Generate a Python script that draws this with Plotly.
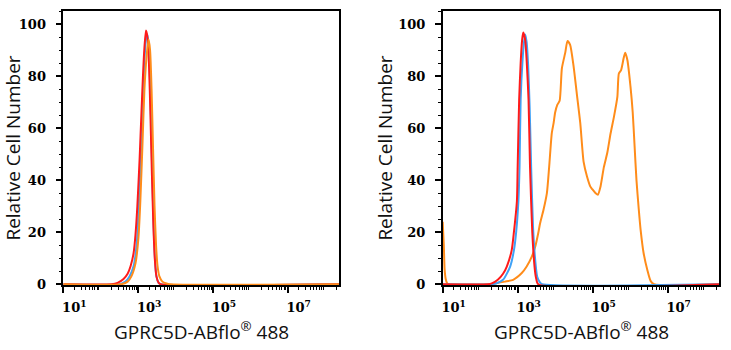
import plotly.graph_objects as go

# ---------------- data (x as log10 of fluorescence intensity, y = relative cell number) ----------------
# Left panel
left_red_logx = [1.00, 2.29, 2.45, 2.61, 2.72, 2.80, 2.88, 2.93, 2.98, 3.04, 3.09, 3.13, 3.17, 3.21, 3.25, 3.29, 3.33, 3.37, 3.41, 3.45, 3.49, 3.55, 3.60, 8.37]
left_red_y = [0, 0, 0.5, 2, 4, 7, 12, 19, 30, 48, 66, 80, 91, 97.5, 95, 85, 65, 42, 22, 9, 3, 0.5, 0, 0]

left_blue_logx = [1.00, 2.50, 2.66, 2.77, 2.88, 2.96, 3.01, 3.06, 3.12, 3.17, 3.21, 3.25, 3.29, 3.33, 3.37, 3.41, 3.45, 3.49, 3.55, 3.60, 8.37]
left_blue_y = [0, 0, 1, 3, 7, 15, 27, 45, 68, 86, 94, 96, 90, 72, 48, 25, 10, 3, 0.5, 0, 0]

left_orange_logx = [1.00, 2.55, 2.72, 2.82, 2.93, 3.01, 3.06, 3.12, 3.17, 3.23, 3.28, 3.32, 3.36, 3.40, 3.44, 3.48, 3.52, 3.57, 3.65, 3.76, 3.84, 8.37]
left_orange_y = [0, 0, 1, 3, 8, 18, 32, 55, 75, 88, 94, 90, 75, 52, 30, 15, 7, 3, 1, 0.3, 0, 0]

# Right panel
right_red_logx = [1.00, 2.21, 2.31, 2.47, 2.61, 2.71, 2.84, 2.90, 2.98, 3.00, 3.04, 3.08, 3.12, 3.15, 3.20, 3.24, 3.29, 3.33, 3.39, 3.45, 3.49, 3.55, 8.40]
right_red_y = [0, 0, 0.3, 1.7, 4, 6.8, 13, 20, 32, 45, 71, 85, 94, 96.7, 94, 86, 71, 45, 20, 6.8, 2.5, 0, 0]

right_blue_logx = [1.00, 2.31, 2.42, 2.61, 2.80, 2.90, 2.96, 3.02, 3.05, 3.08, 3.13, 3.17, 3.20, 3.24, 3.28, 3.32, 3.36, 3.41, 3.47, 3.52, 3.59, 3.65, 8.40]
right_blue_y = [0, 0, 0.3, 1.7, 6.8, 13, 20, 32, 45, 71, 86, 93, 96, 93, 84, 68, 45, 22, 9, 3, 0.8, 0, 0]

right_orange_logx = [1.00, 1.03, 1.05, 1.08, 1.12, 1.16, 2.26, 2.39, 2.66, 2.88, 3.11, 3.24, 3.38, 3.47, 3.55,
                     3.60, 3.69, 3.78, 3.84, 3.91, 3.96, 4.00, 4.06, 4.12, 4.18, 4.27, 4.33, 4.40, 4.49, 4.58,
                     4.67, 4.76, 4.85, 4.94, 4.99, 5.08, 5.14, 5.21, 5.30, 5.39, 5.48, 5.57, 5.66, 5.70, 5.76,
                     5.83, 5.87, 5.93, 6.01, 6.07, 6.12, 6.17, 6.23, 6.28, 6.36, 6.46, 6.55, 6.64, 8.40]
right_orange_y = [24, 15, 6, 2, 0.3, 0, 0, 0.3, 1, 1.7, 4.3, 6.8, 10.7, 14.5, 19.7,
                  23.5, 28.6, 35, 45, 58, 62, 66, 69, 70.5, 83, 89, 93.5, 92, 84, 73,
                  62, 47, 41.4, 37.5, 36.5, 35, 34.4, 37.5, 45, 50.4, 58, 64.4, 72, 81, 82.3,
                  87, 89, 86, 76, 66, 53, 40, 29, 21, 12, 5.5, 1.2, 0, 0]

labeled_exponents = [1, 3, 5, 7]
x_tick_labels = ["10<sup>1</sup>", "10<sup>3</sup>", "10<sup>5</sup>", "10<sup>7</sup>"]
unlabeled_exponents = [2, 4, 6, 8]
y_tick_values = [0, 20, 40, 60, 80, 100]
x_title = "GPRC5D-ABflo<sup>®</sup> 488"
y_title = "Relative Cell Number"

RED = "#FF1A1A"
BLUE = "#3FA2F7"
ORANGE = "#FF8C1A"

def tr(logx, y, color, xa, ya):
    return go.Scatter(x=[10 ** v for v in logx], y=y, mode="lines",
                      line=dict(color=color, width=2, shape="spline", smoothing=0.6),
                      xaxis=xa, yaxis=ya, showlegend=False, hoverinfo="skip")

fig = go.Figure()
fig.add_trace(tr(left_blue_logx, left_blue_y, BLUE, "x", "y"))
fig.add_trace(tr(left_red_logx, left_red_y, RED, "x", "y"))
fig.add_trace(tr(left_orange_logx, left_orange_y, ORANGE, "x", "y"))
fig.add_trace(tr(right_orange_logx, right_orange_y, ORANGE, "x2", "y2"))
fig.add_trace(tr(right_blue_logx, right_blue_y, BLUE, "x2", "y2"))
fig.add_trace(tr(right_red_logx, right_red_y, RED, "x2", "y2"))

W, H = 731, 350
XRANGE = [1.0, 8.38]
title_font = dict(family="Open Sans", size=19, color="#111111")
minor_x_vals = [m * 10 ** e for e in range(1, 9) for m in range(2, 10)]

def xaxis(domain, anchor):
    return dict(domain=domain, anchor=anchor, type="log", range=XRANGE,
                tickvals=[10 ** e for e in labeled_exponents], ticktext=x_tick_labels,
                ticks="outside", ticklen=6, tickwidth=1.5, tickcolor="black",
                minor=dict(tickvals=minor_x_vals, ticks="outside", ticklen=3, tickwidth=1, tickcolor="black"),
                ticklabelshift=11, ticklabelstandoff=4,
                tickfont=dict(family="DejaVu Serif", size=13, color="black", weight="bold"),
                showline=True, linecolor="black", linewidth=1.5, mirror=True,
                showgrid=False, zeroline=False, automargin=False)

def xaxis_extra(domain, anchor, overlay):
    # unlabeled major (even-decade) ticks
    return dict(domain=domain, anchor=anchor, overlaying=overlay, type="log", range=XRANGE,
                tickvals=[10 ** e for e in unlabeled_exponents], showticklabels=False,
                ticks="outside", ticklen=6, tickwidth=1.5, tickcolor="black",
                showline=False, showgrid=False, zeroline=False, automargin=False)

def yaxis(anchor):
    return dict(domain=[65 / H, 339 / H], range=[-0.3, 105], anchor=anchor,
                tickvals=y_tick_values, ticks="outside", ticklen=6, tickwidth=1.5, tickcolor="black",
                minor=dict(dtick=5, ticks="outside", ticklen=3, tickwidth=1, tickcolor="black"),
                ticklabelstandoff=7,
                tickfont=dict(family="DejaVu Serif", size=13, color="black", weight="bold"),
                showline=True, linecolor="black", linewidth=1.5, mirror=True,
                showgrid=False, zeroline=False, automargin=False,
                title=dict(text=y_title, font=title_font, standoff=1))

dl = [63.3 / W, 339.3 / W]
dr = [442.7 / W, 719.3 / W]
fig.update_layout(
    width=W, height=H, margin=dict(l=0, r=0, t=0, b=0),
    paper_bgcolor="white", plot_bgcolor="white",
    xaxis=xaxis(dl, "y"),
    yaxis=yaxis("x"),
    xaxis2=xaxis(dr, "y2"),
    yaxis2=yaxis("x2"),
    xaxis3=xaxis_extra(dl, "y", "x"),
    xaxis4=xaxis_extra(dr, "y2", "x2"),
)
for d in (dl, dr):
    fig.add_annotation(text=x_title, xref="paper", yref="paper",
                       x=(d[0] + d[1]) / 2, y=(H - 331) / H, xanchor="center", yanchor="middle",
                       showarrow=False, font=title_font)

fig.write_html("out.html")
